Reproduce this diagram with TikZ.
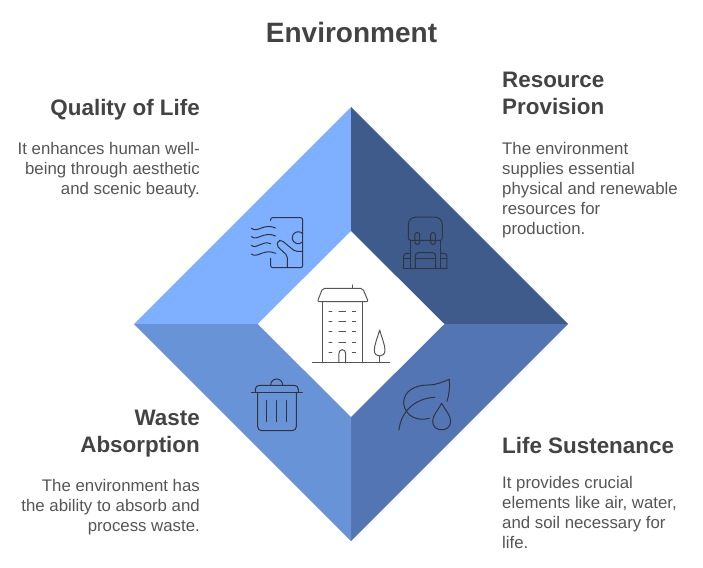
\documentclass[tikz,border=0pt]{standalone}
\usepackage{fontspec}
\setmainfont{Liberation Sans}
\usepackage{tikz}
\definecolor{qualityblue}{HTML}{7FB0FF}
\definecolor{resourceblue}{HTML}{3F5B8C}
\definecolor{lifeblue}{HTML}{5475B3}
\definecolor{wasteblue}{HTML}{6893D6}
\definecolor{headgray}{HTML}{434343}
\definecolor{bodygray}{HTML}{555555}
\definecolor{icondark}{HTML}{2F3540}
\definecolor{icongray}{HTML}{555555}
\tikzset{
  headtext/.style={text=headgray, font=\fontsize{22.4}{27}\selectfont\bfseries, inner sep=0pt},
  bodytext/.style={text=bodygray, font=\fontsize{16.8}{20.1}\selectfont, inner sep=0pt},
  iconline/.style={draw=icondark, line width=1pt, line cap=round, line join=round},
  buildline/.style={draw=icongray, line width=1pt, line cap=round, line join=round},
  zoomed/.style={shift={(230,200)}, x=0.3333pt, y=-0.3333pt}
}
\begin{document}
\begin{tikzpicture}[x=1pt, y=-1pt]
  \useasboundingbox (0, 0) rectangle (703, 567);
  % diamond
  \fill [qualityblue] (351, 107) -- (351, 231) -- (257.5, 324) -- (134, 324) -- cycle;
  \fill [resourceblue] (351, 107) -- (568, 324) -- (444.5, 324) -- (351, 231) -- cycle;
  \fill [lifeblue] (568, 324) -- (351, 541) -- (351, 417) -- (444.5, 324) -- cycle;
  \fill [wasteblue] (134, 324) -- (257.5, 324) -- (351, 417) -- (351, 541) -- cycle;

  % texts
  \node [headtext, anchor=base] (title) at (351.5, 43) {\fontsize{28}{32}\selectfont Environment};
  \node [headtext, anchor=base east] (qualityhead) at (200, 115) {Quality of Life};
  \node [bodytext, anchor=north east, align=right] (qualitybody) at (200, 142)
    {It enhances human well-\\being through aesthetic\\and scenic beauty.};
  \node [headtext, anchor=north west, align=left] (resourcehead) at (502, 72)
    {Resource\\Provision};
  \node [bodytext, anchor=north west, align=left] (resourcebody) at (502, 142)
    {The environment\\supplies essential\\physical and renewable\\resources for\\production.};
  \node [headtext, anchor=north east, align=right] (wastehead) at (200, 410)
    {Waste\\Absorption};
  \node [bodytext, anchor=north east, align=right] (wastebody) at (200, 479)
    {The environment has\\the ability to absorb and\\process waste.};
  \node [headtext, anchor=base west] (lifehead) at (502, 453) {Life Sustenance};
  \node [bodytext, anchor=north west, align=left] (lifebody) at (502, 476)
    {It provides crucial\\elements like air, water,\\and soil necessary for\\life.};

  % building
  \begin{scope}[zoomed]
    \draw [buildline] (247, 489) -- (479, 489);
    \draw [buildline] (277, 489) -- (277, 305);
    \draw [buildline] (398, 305) -- (398, 489);
    \draw [buildline, rounded corners=2pt] (262, 305) -- (278, 265) -- (398, 265) -- (415, 305) -- cycle;
    \draw [buildline] (368, 265) -- (368, 255);
    \foreach \rowy in {336, 366, 396, 427, 457} {
      \draw [buildline] (297, \rowy) -- (306, \rowy);
      \draw [buildline] (367, \rowy) -- (377, \rowy);
    }
    \foreach \rowy in {336, 366, 396, 427} {
      \draw [buildline] (327, \rowy) -- (347, \rowy);
    }
    \draw [buildline] (327, 489) -- (327, 460) arc (180:360:10 and 11) -- (347, 489);
    \draw [buildline] (449, 390) .. controls (441, 418) and (433, 435) .. (433, 451)
      .. controls (433, 474) and (465, 474) .. (465, 451)
      .. controls (465, 435) and (457, 418) .. (449, 390);
    \draw [buildline] (449, 468) -- (449, 489);
  \end{scope}

  % picture with wind
  \begin{scope}[zoomed]
    \draw [iconline, rounded corners=2pt] (122, 62) -- (122, 53) -- (218, 53) -- (218, 203) -- (122, 203) -- (122, 175);
    \draw [iconline] (218, 101) arc (317:43:18);
    \draw [iconline, rounded corners=2pt] (172, 203) -- (172, 167) -- (140, 137) -- (145, 121) -- (155, 121) -- (195, 154) -- (218, 154);
    \draw [iconline] (64, 85) .. controls (84, 100) and (100, 68) .. (137, 84);
    \draw [iconline] (64, 110) .. controls (84, 124) and (100, 92) .. (137, 108);
    \draw [iconline] (64, 136) .. controls (80, 150) and (96, 120) .. (122, 131);
    \draw [iconline] (64, 162) .. controls (84, 176) and (100, 144) .. (137, 160);
  \end{scope}

  % backpack
  \begin{scope}[zoomed]
    \draw [iconline] (541, 121) .. controls (537, 121) and (535, 118) .. (535, 112) -- (535, 75)
      .. controls (535, 60) and (545, 51) .. (560, 51) -- (612, 51)
      .. controls (627, 51) and (637, 60) .. (637, 75) -- (637, 112)
      .. controls (637, 118) and (635, 121) .. (632, 121) -- cycle;
    \draw [iconline] (541, 121) -- (541, 206);
    \draw [iconline] (632, 121) -- (632, 206);
    \draw [iconline, rounded corners=3pt] (521, 206) -- (521, 160) -- (541, 160);
    \draw [iconline, rounded corners=3pt] (651, 206) -- (651, 160) -- (632, 160);
    \draw [iconline] (521, 176) -- (541, 176);
    \draw [iconline] (632, 176) -- (651, 176);
    \draw [iconline] (521, 206) -- (651, 206);
    \draw [iconline, rounded corners=3pt] (556, 206) -- (556, 158) -- (617, 158) -- (617, 206);
    \draw [iconline] (556, 176) -- (617, 176);
    \draw [iconline, rounded corners=2pt] (555, 98) rectangle (569, 133);
    \draw [iconline, rounded corners=2pt] (602, 98) rectangle (616, 133);
  \end{scope}

  % bin
  \begin{scope}[zoomed]
    \draw [iconline] (64, 577) -- (217, 577);
    \draw [iconline, rounded corners=4pt] (76, 577) -- (76, 556) -- (205, 556) -- (205, 577);
    \draw [iconline] (122, 555) arc (180:360:18 and 18);
    \draw [iconline, rounded corners=4pt] (83, 577) -- (83, 692) -- (199, 692) -- (199, 577);
    \draw [iconline] (110, 602) -- (110, 665);
    \draw [iconline] (140, 602) -- (140, 665);
    \draw [iconline] (170, 602) -- (170, 665);
  \end{scope}

  % leaf and drop
  \begin{scope}[zoomed]
    \draw [iconline] (507, 690) .. controls (512, 640) and (550, 595) .. (615, 592);
    \draw [iconline] (598, 655) .. controls (565, 665) and (525, 650) .. (521, 610)
      .. controls (520, 570) and (560, 555) .. (595, 555)
      .. controls (620, 555) and (640, 545) .. (658, 538)
      .. controls (660, 565) and (657, 585) .. (651, 604);
    \draw [iconline] (635, 610) .. controls (625, 630) and (608, 645) .. (608, 664)
      .. controls (608, 698) and (662, 698) .. (662, 664)
      .. controls (662, 645) and (645, 630) .. (635, 610);
  \end{scope}
\end{tikzpicture}
\end{document}
